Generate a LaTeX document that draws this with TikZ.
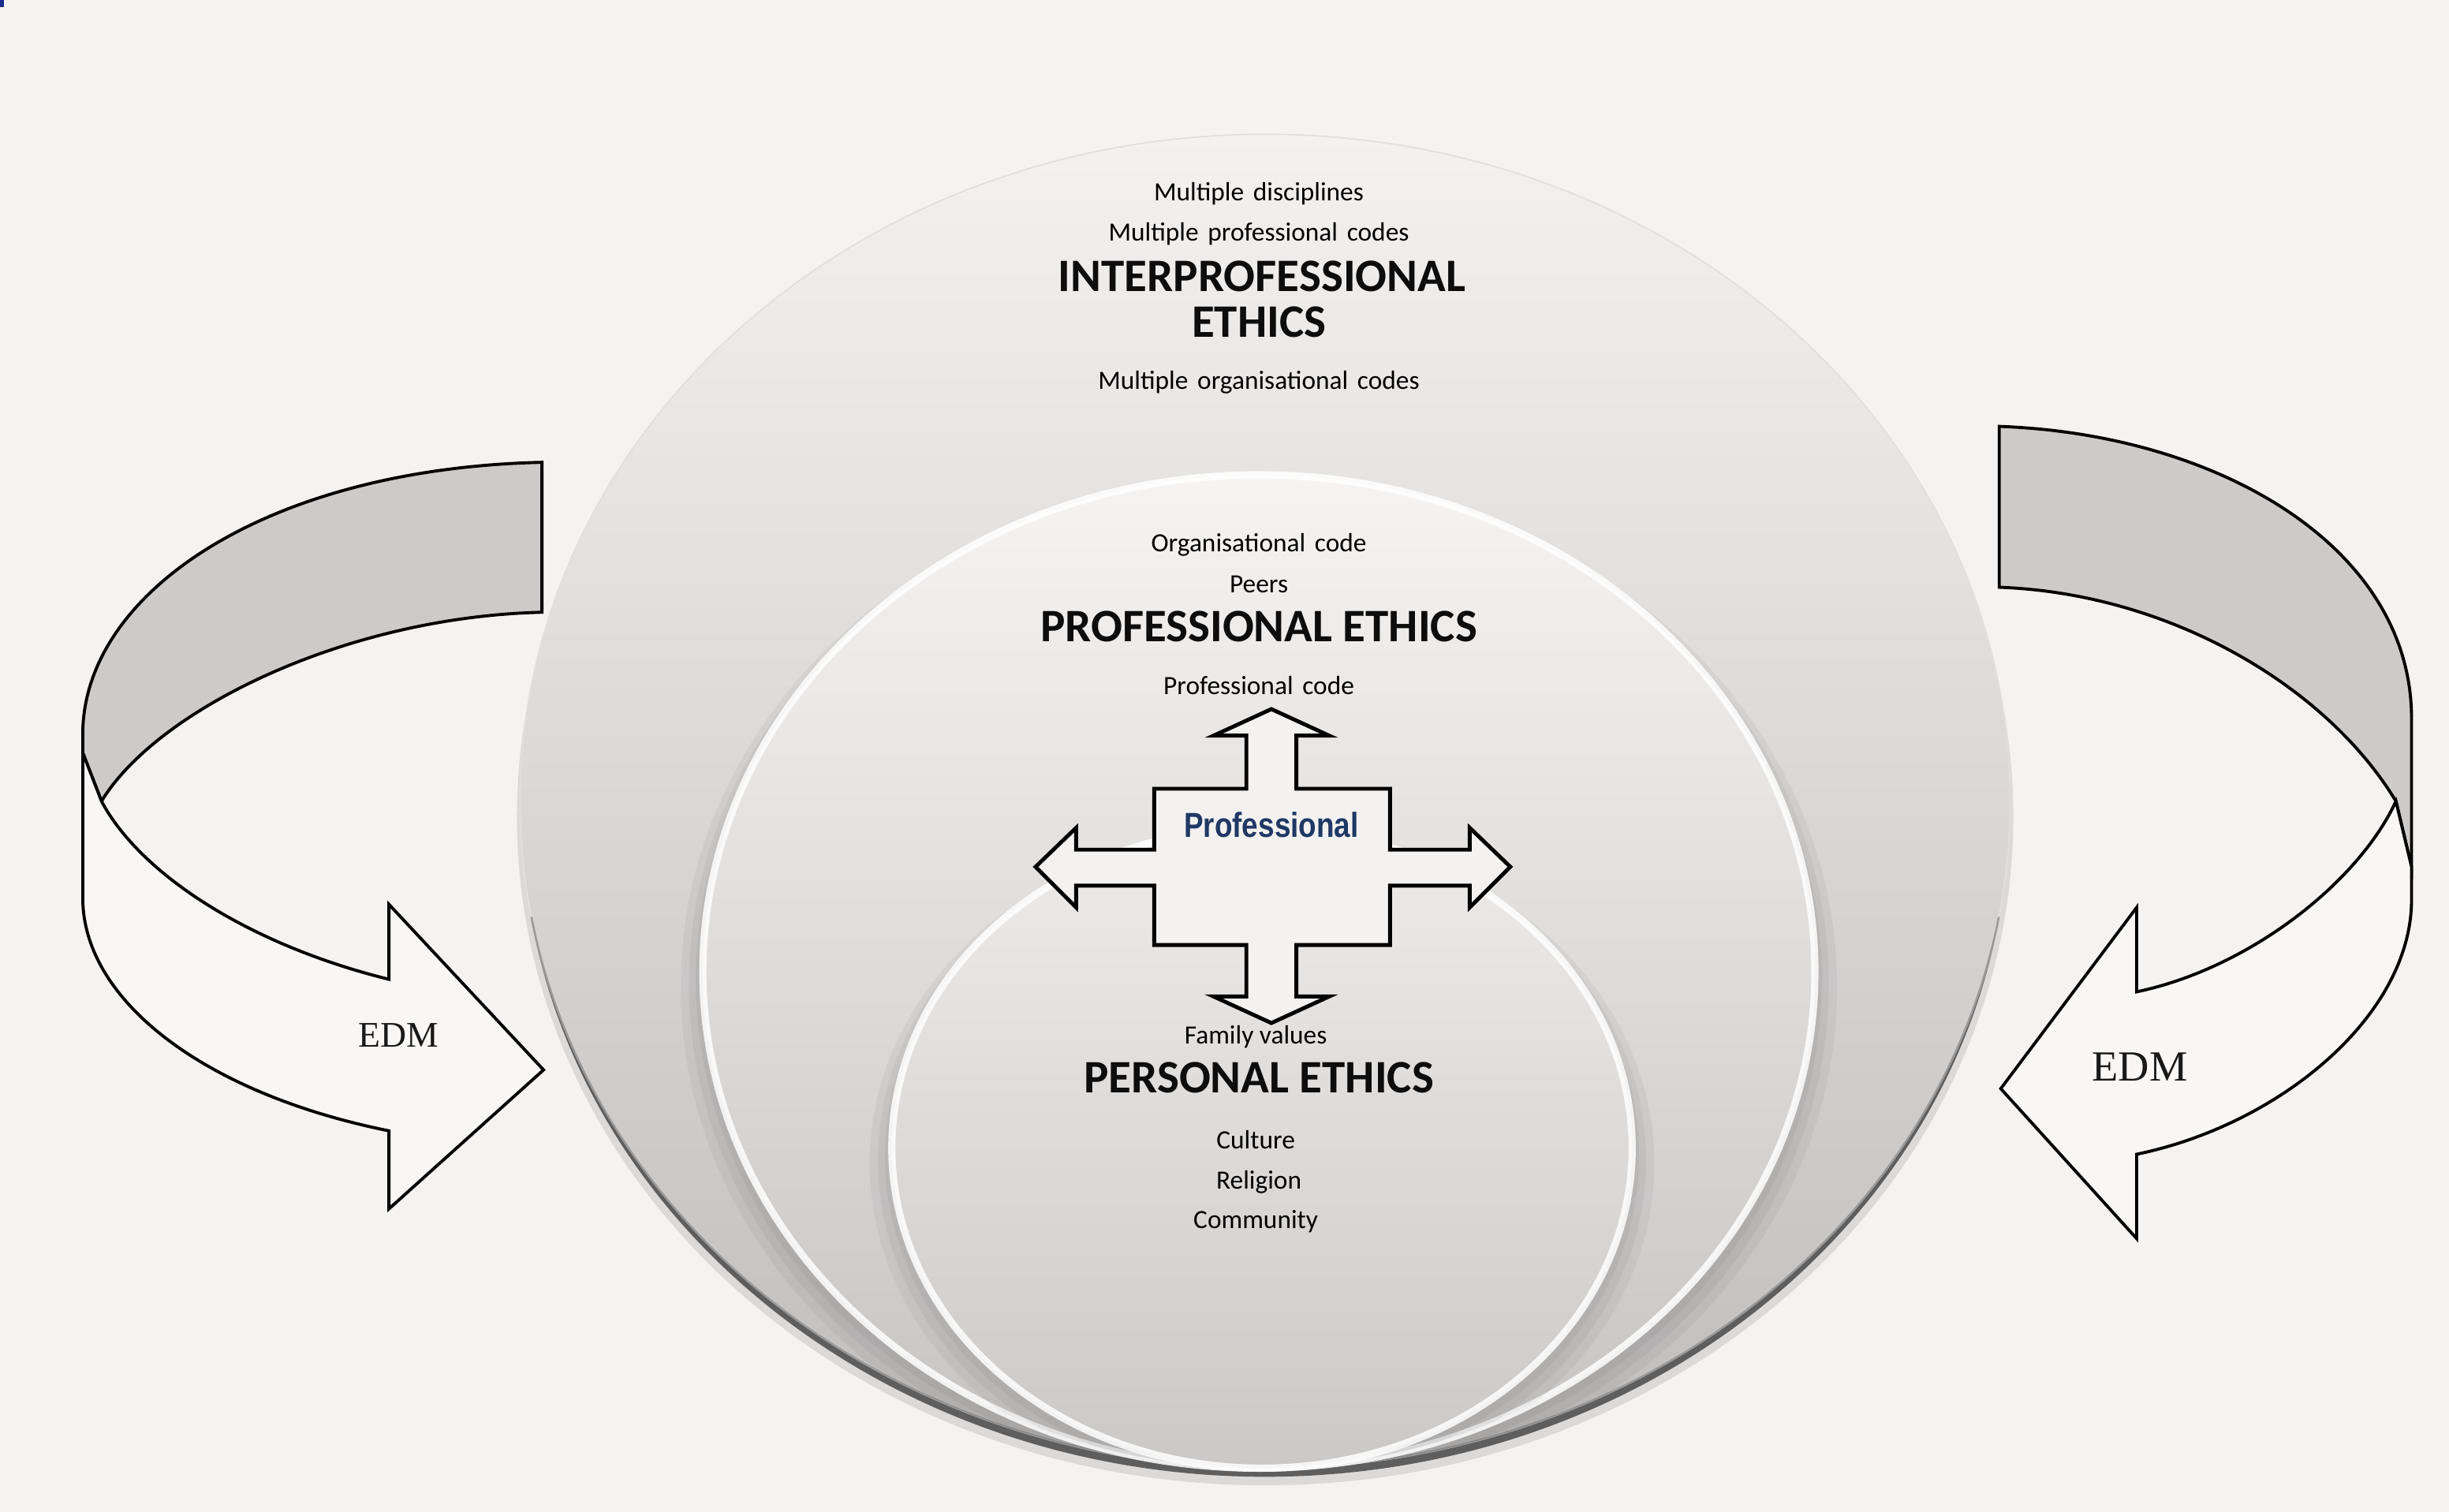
\documentclass[tikz,border=0pt]{standalone}
\usepackage{fontspec}
\usepackage{graphicx}
\newfontfamily\calib{Carlito}
\newfontfamily\tnr{Liberation Serif}
\newfontfamily\arl{Liberation Sans}
\definecolor{paper}{HTML}{F5F3F2}
\definecolor{bandgrey}{HTML}{CDCBCA}
\definecolor{ribbonwhite}{HTML}{F8F7F6}
\definecolor{crossfill}{HTML}{F3F2F1}
\definecolor{navy}{HTML}{1F3864}
\definecolor{markblue}{HTML}{1C2A8C}
\definecolor{cat}{HTML}{F4F2F1}
\definecolor{cam}{HTML}{E2E0DF}
\definecolor{cab}{HTML}{C0BEBD}
\definecolor{cbt}{HTML}{F6F4F3}
\definecolor{cbm}{HTML}{E3E1E0}
\definecolor{cbb}{HTML}{C6C4C3}
\definecolor{cct}{HTML}{EEECEB}
\definecolor{ccm}{HTML}{DDDBDA}
\definecolor{ccb}{HTML}{CBC9C8}
\newcommand{\wsp}{\hspace{0.35em}}
\tikzset{
  smalltxt/.style={font=\calib\fontsize{9.5}{11}\selectfont, text=black, inner sep=0pt, text height=0.7em, text depth=0.2em},
  bigtxt/.style={font=\calib\bfseries\fontsize{16.8}{19}\selectfont, text=black!95, inner sep=0pt, text height=0.7em, text depth=0.05em},
  edmtxt/.style={font=\tnr\fontsize{13}{15}\selectfont, inner sep=0pt, text=black!90},
  proftxt/.style={font=\arl\bfseries\fontsize{12.5}{14}\selectfont, text=navy, inner sep=0pt},
  bandface/.style={fill=bandgrey, draw=black, line width=1.1pt, line join=miter},
  ribbonface/.style={fill=ribbonwhite, draw=black, line width=1.1pt, line join=miter},
  crossshape/.style={fill=crossfill, draw=black, line width=1.4pt, line join=miter},
  rim/.style={draw=white, line width=2.6pt, opacity=0.85},
  halo/.style={draw=black, opacity=0.045},
}
\begin{document}
\begin{tikzpicture}[x=0.019802cm,y=-0.019802cm]
\useasboundingbox (0,0) rectangle (1568,968);
\fill[paper] (0,0) rectangle (1568,968);
\fill[markblue] (0,0) rectangle (2.5,4.5);

% ---- outer circle (interprofessional) ----
\fill[black, opacity=0.10] (810,523) ellipse [x radius=479, y radius=428];
\fill[black!75, opacity=0.80] (810,519.5) ellipse [x radius=476, y radius=426];
\shade[top color=cat, middle color=cam, bottom color=cab] (810,513) ellipse [x radius=477, y radius=427];
\draw[black!12, line width=0.5pt] (810,513) ellipse [x radius=477, y radius=427];
\draw[black!40, line width=0.7pt] (810,513) ++(170:477 and 427) arc[start angle=170, end angle=10, x radius=477, y radius=427];

% ---- middle circle (professional) ----
\begin{scope}
  \clip (810,513) ellipse [x radius=477, y radius=427];
  \draw[halo, line width=16pt] (806,632) ellipse [x radius=356, y radius=312];
  \draw[halo, line width=10pt] (806,630) ellipse [x radius=356, y radius=314];
  \draw[halo, line width=5pt] (806,627) ellipse [x radius=356, y radius=316];
\end{scope}
\shade[top color=cbt, middle color=cbm, bottom color=cbb] (806,622) ellipse [x radius=356, y radius=318];
\draw[rim] (806,622) ellipse [x radius=356, y radius=318];

% ---- inner circle (personal) ----
\begin{scope}
  \clip (806,622) ellipse [x radius=356, y radius=318];
  \draw[halo, line width=16pt] (808,745) ellipse [x radius=237, y radius=199];
  \draw[halo, line width=10pt] (808,743) ellipse [x radius=237, y radius=201];
  \draw[halo, line width=5pt] (808,740) ellipse [x radius=237, y radius=203];
\end{scope}
\shade[top color=cct, middle color=ccm, bottom color=ccb] (808,735) ellipse [x radius=237, y radius=205];
\draw[rim] (808,735) ellipse [x radius=237, y radius=205];

% ---- texts ----
\node[smalltxt] (md)   at (806,124) {Multiple\wsp disciplines};
\node[smalltxt] (mpc)  at (806,150) {Multiple\wsp professional\wsp codes};
\node[bigtxt]   (ipa)  at (808,181) {INTERPROFESSIONAL};
\node[bigtxt]   (ipb)  at (806,210) {ETHICS};
\node[smalltxt] (moc)  at (806,245) {Multiple\wsp organisational\wsp codes};
\node[smalltxt] (oc)   at (806,349) {Organisational\wsp code};
\node[smalltxt] (peer) at (806,375) {Peers};
\node[bigtxt]   (pe)   at (806,405) {PROFESSIONAL ETHICS};
\node[smalltxt] (pc)   at (806,440) {Professional\wsp code};
\node[smalltxt] (fv)   at (804,664) {Family values};
\node[bigtxt]   (pers) at (806,694) {PERSONAL ETHICS};
\node[smalltxt] (cul)  at (804,731) {Culture};
\node[smalltxt] (rel)  at (806,757) {Religion};
\node[smalltxt] (com)  at (804,782) {Community};

% ---- central cross ----
\draw[crossshape] (814,454) -- (851,471) -- (830,471) -- (830,505) -- (890,505) -- (890,544)
  -- (941,544) -- (941,530) -- (967,555) -- (941,581) -- (941,567) -- (890,567) -- (890,605)
  -- (830,605) -- (830,638) -- (851,638) -- (814,655) -- (777,638) -- (798,638) -- (798,605)
  -- (739,605) -- (739,567) -- (689,567) -- (689,581) -- (663,555) -- (689,530) -- (689,544)
  -- (739,544) -- (739,505) -- (798,505) -- (798,471) -- (777,471) -- cycle;
\node[proftxt] (prof) at (814,528) {\scalebox{0.84}[1]{Professional}};

% ---- left EDM ribbon arrow ----
\draw[bandface] (347,296) .. controls (170,300) and (53,380) .. (53,470) -- (53,482) -- (65,513)
  .. controls (100,455) and (220,395) .. (347,392) -- cycle;
\draw[ribbonface] (53,482) -- (53,575) .. controls (53,640) and (130,700) .. (249,724)
  -- (249,774) -- (348,685) -- (249,579) -- (249,627)
  .. controls (160,605) and (90,560) .. (65,513) -- cycle;
\node[edmtxt] (edml) at (255,663) {EDM};

% ---- right EDM ribbon arrow ----
\draw[bandface] (1280,273) .. controls (1420,278) and (1544,350) .. (1544,460) -- (1544,555) -- (1534,513)
  .. controls (1490,440) and (1390,380) .. (1280,376) -- cycle;
\draw[ribbonface] (1534,513) .. controls (1510,565) and (1440,620) .. (1368,635)
  -- (1368,581) -- (1281,697) -- (1368,793) -- (1368,739)
  .. controls (1460,720) and (1544,650) .. (1544,576) -- (1544,555) -- cycle;
\node[edmtxt, font=\tnr\fontsize{15.5}{17}\selectfont] (edmr) at (1370,683) {EDM};
\end{tikzpicture}
\end{document}
